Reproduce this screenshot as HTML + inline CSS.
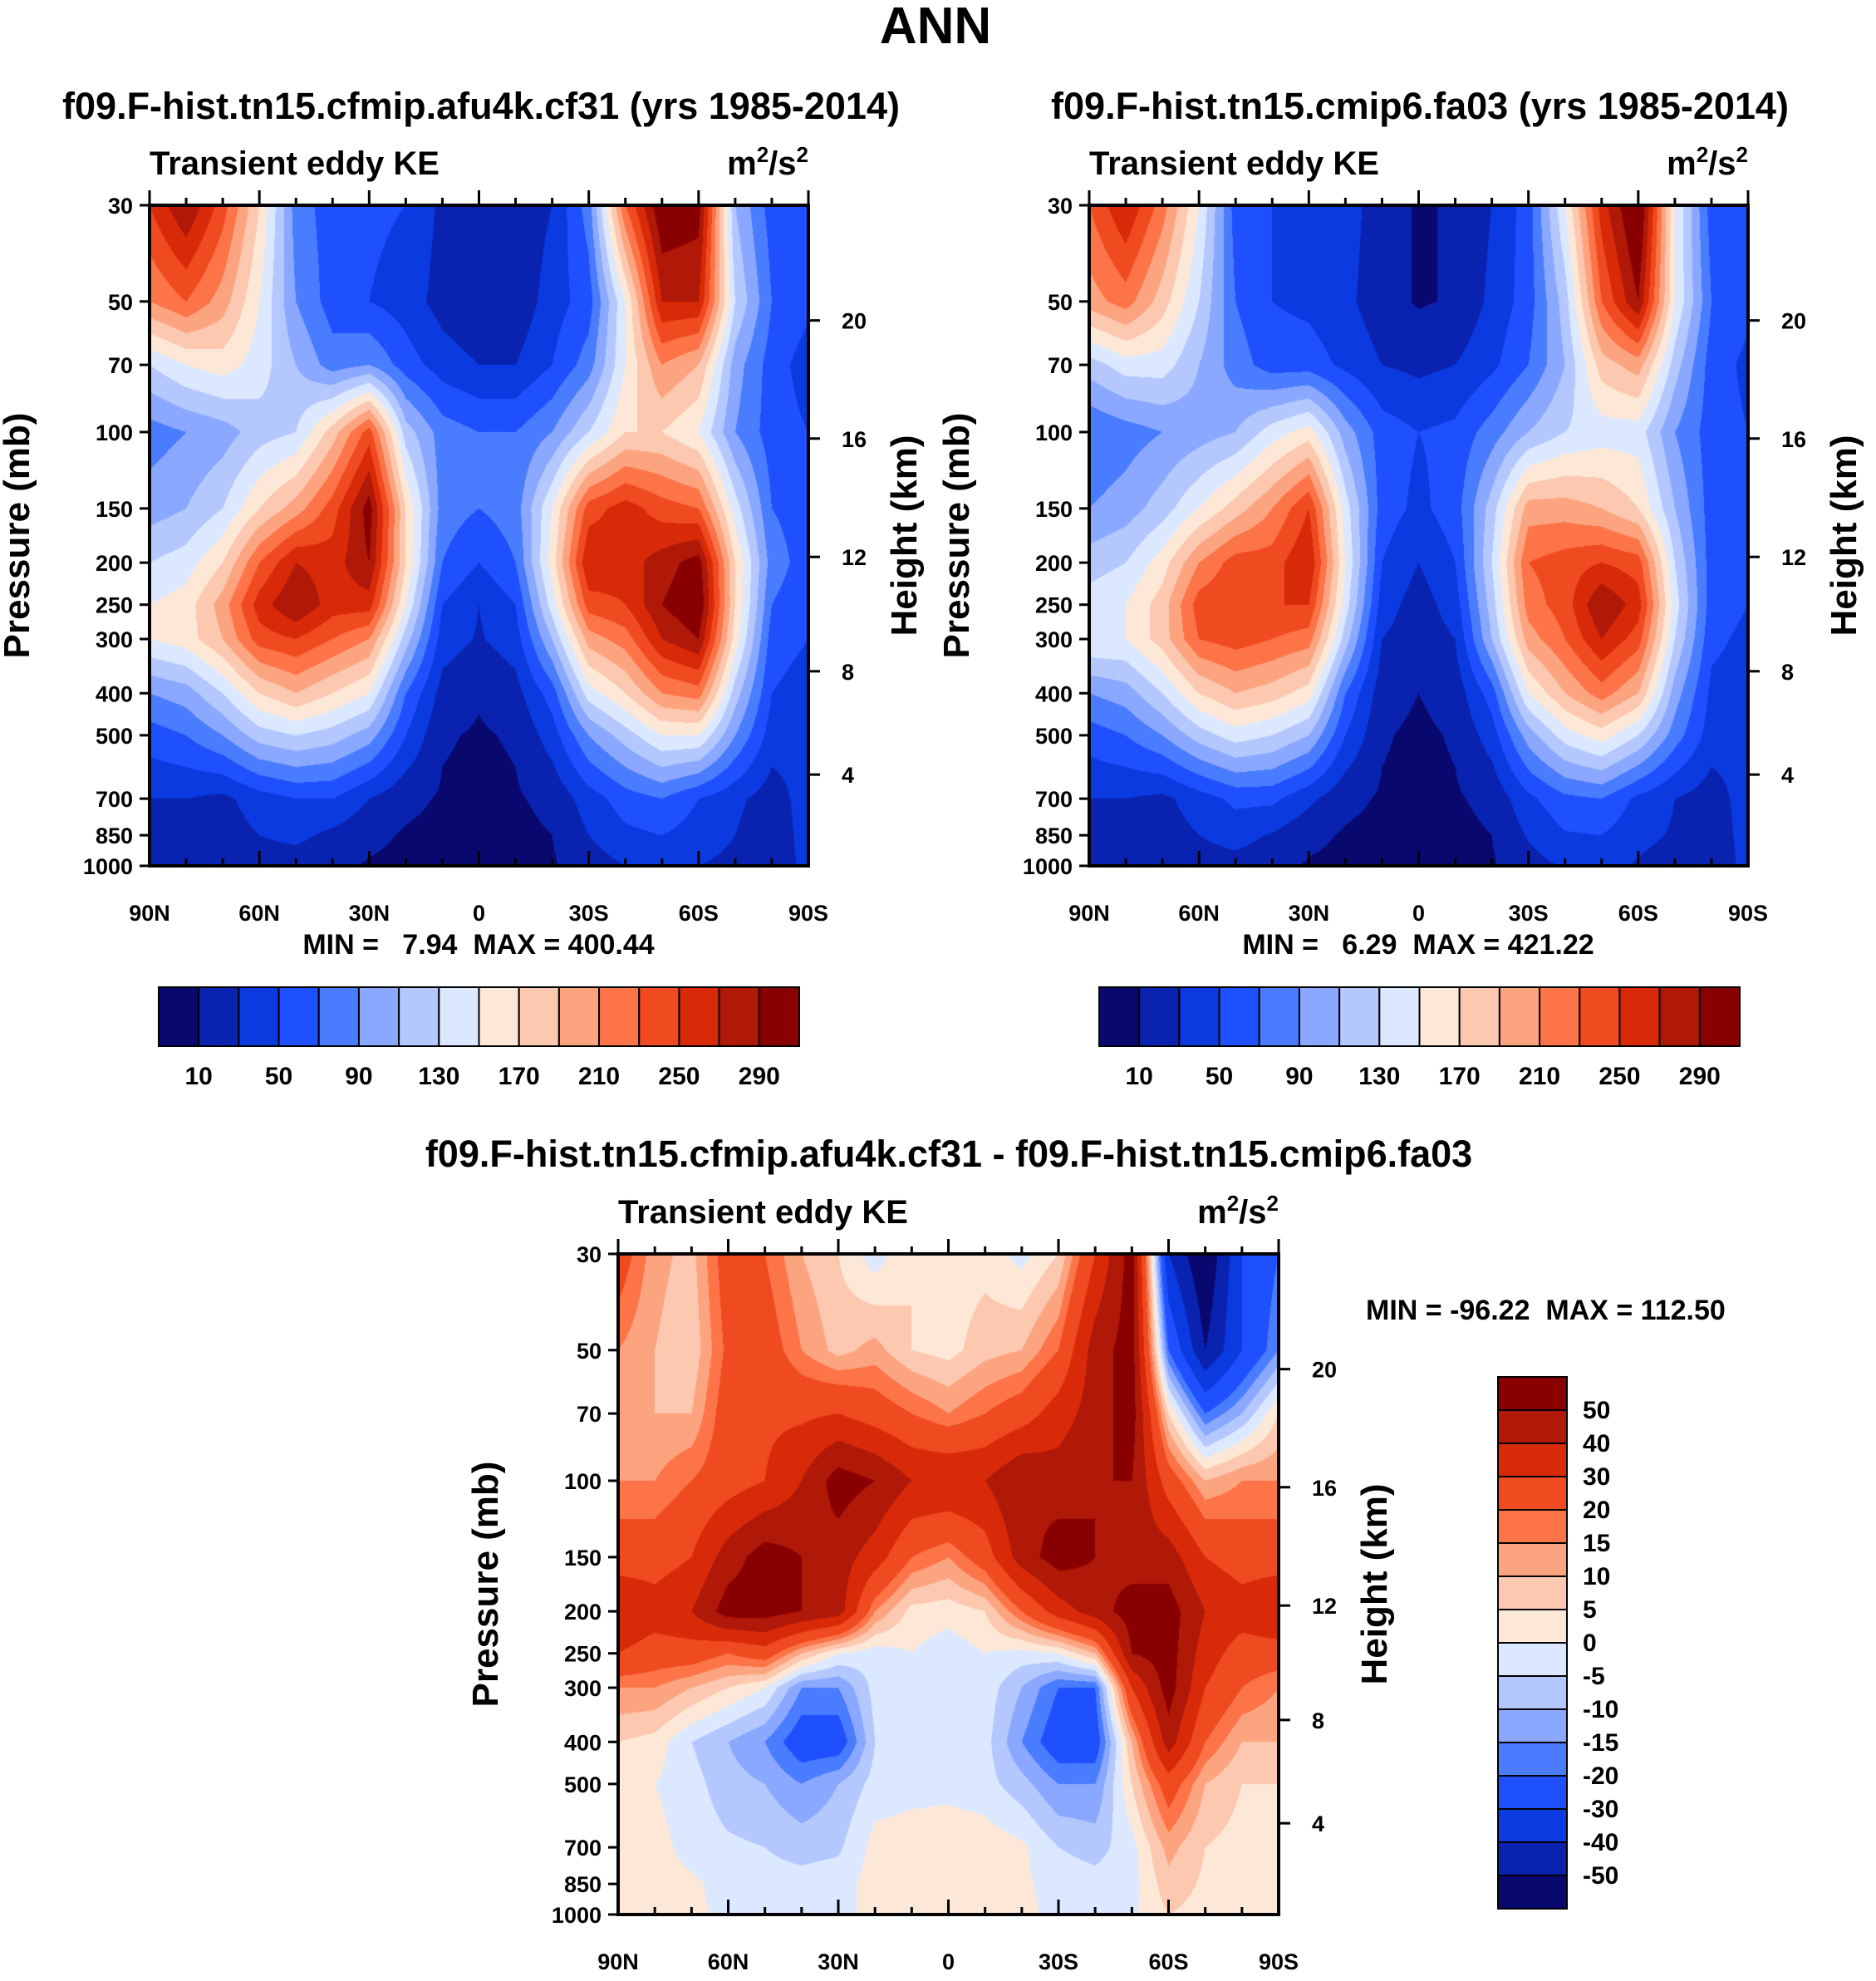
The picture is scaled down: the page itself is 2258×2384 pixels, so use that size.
<!DOCTYPE html>
<html><head><meta charset="utf-8">
<style>
html,body{margin:0;padding:0;background:#fff;}
body{width:2258px;height:2384px;position:relative;overflow:hidden;font-family:"Liberation Sans",sans-serif;}
canvas{position:absolute;}
svg{position:absolute;left:0;top:0;}
svg text{font-family:"Liberation Sans",sans-serif;font-weight:bold;fill:#000;}
.pre{white-space:pre;}
</style></head>
<body>
<canvas id="c1"></canvas>
<canvas id="c2"></canvas>
<canvas id="c3"></canvas>
<svg id="ov" width="2258" height="2384"></svg>
<script>
// ---- data ----
const lats = [90,80,70,60,50,40,30,20,10,0,-10,-20,-30,-40,-50,-60,-70,-80,-90];
const plevs = [30,50,70,100,150,200,250,300,400,500,700,850,1000];
const keLevels = [10,30,50,70,90,110,130,150,170,190,210,230,250,270,290];
const keTickLabels = ["10","50","90","130","170","210","250","290"];
const diffLevels = [-50,-40,-30,-20,-15,-10,-5,0,5,10,15,20,30,40,50];
const diffTickLabels = ["50","40","30","20","15","10","5","0","-5","-10","-15","-20","-30","-40","-50"];
const colors = ["#08086e","#0a22b0","#0a3ae0","#1e50ff","#4a7cff","#8aa8ff","#b4c8ff","#dce8ff","#fde8d8","#fcc8b0","#fca480","#fc7448","#f04a20","#d82a08","#b01808","#880000"];
const lonTicks = ["90N","60N","30N","0","30S","60S","90S"];
const pTicks = [30,50,70,100,150,200,250,300,400,500,700,850,1000];
const hTicks = [20,16,12,8,4];
const hTickP = [55.3,103.5,194,356,616];

const ke1 = [
[250,290,240,170,80,60,55,50,25,15,15,30,80,230,310,300,110,60,50],
[210,230,200,150,90,60,50,40,22,12,15,40,60,150,270,270,130,70,55],
[130,150,160,140,110,80,90,60,40,30,30,50,80,150,210,190,100,60,40],
[80,90,100,120,130,180,240,120,80,70,70,90,130,170,170,150,90,60,50],
[100,110,130,170,200,240,300,170,80,70,80,150,240,260,240,230,140,70,60],
[130,140,170,230,270,260,290,170,70,50,70,160,270,260,280,300,170,80,60],
[150,160,200,260,290,260,260,150,50,30,50,140,240,250,290,310,170,70,55],
[150,160,190,240,250,230,210,120,40,28,40,110,200,220,270,290,160,60,50],
[90,100,130,170,190,170,150,70,22,12,22,60,140,170,210,220,120,50,40],
[60,70,90,120,130,120,100,50,12,8,12,40,90,120,150,150,90,40,35],
[30,30,25,40,50,50,30,15,8,5,8,15,40,60,70,50,35,20,40],
[25,25,20,30,35,25,15,8,5,5,5,10,30,45,50,40,30,15,40],
[20,20,15,20,20,15,8,5,5,5,5,8,20,30,35,30,25,10,40]];

const ke2 = [
[230,270,220,150,60,50,45,40,18,8,12,30,60,150,260,320,150,60,50],
[200,220,180,130,70,50,45,35,18,8,12,35,60,120,230,290,150,70,55],
[120,140,140,110,80,60,60,45,30,25,30,45,70,110,180,200,120,60,45],
[70,80,90,100,110,140,160,100,60,50,55,80,110,130,140,140,90,60,50],
[90,100,120,150,180,210,250,140,60,45,60,120,200,200,190,170,110,60,50],
[120,130,160,210,240,240,270,150,50,30,50,130,230,240,250,240,130,60,50],
[140,150,180,240,250,250,250,140,40,20,40,120,220,240,290,260,140,60,50],
[150,150,180,230,240,230,220,120,30,18,30,110,200,230,270,240,130,55,45],
[90,100,130,170,190,180,160,70,18,10,18,60,150,190,220,190,100,45,40],
[60,70,90,120,140,130,110,50,12,6,12,40,100,140,160,130,80,40,35],
[30,30,25,40,55,55,35,15,8,5,8,15,45,65,70,45,30,20,40],
[25,25,20,30,38,28,15,8,5,5,5,10,32,48,50,35,28,15,40],
[20,20,15,20,22,16,8,5,5,5,5,8,22,32,36,28,22,10,40]];

const dke = [
[25,12,8,25,20,10,5,-3,5,2,3,-2,5,30,55,-40,-60,-30,-20],
[15,10,6,22,25,15,8,12,5,3,8,10,20,45,55,-20,-50,-30,-15],
[15,10,10,25,28,28,30,25,20,15,20,25,35,45,55,5,-20,-10,5],
[15,15,20,25,30,40,55,50,40,40,40,50,45,50,50,25,10,15,15],
[25,25,30,45,55,50,45,35,20,15,25,45,55,50,45,45,30,25,25],
[40,35,40,55,55,50,45,15,3,2,5,20,35,45,55,55,40,35,40],
[30,25,25,20,25,10,0,-3,0,-3,0,-2,0,10,50,55,35,25,25],
[15,15,10,5,0,-15,-15,-3,-2,-2,-2,-10,-20,-20,30,55,30,20,15],
[5,3,-5,-10,-15,-25,-25,-5,-2,-2,-3,-15,-25,-25,10,45,20,10,10],
[2,0,-3,-8,-10,-15,-10,-3,-2,-2,-3,-8,-15,-15,5,25,10,5,5],
[2,2,-2,-4,-5,-7,-6,2,3,4,3,1,-5,-7,-2,12,5,3,3],
[2,2,1,-2,-3,-3,-2,2,3,3,3,1,-2,-3,-2,8,4,3,3],
[2,2,1,-1,-2,-2,-1,1,2,2,2,1,-1,-2,-1,5,3,2,2]];

// ---- helpers ----
const NS="http://www.w3.org/2000/svg";
const ov=document.getElementById('ov');
function mk(tag,attrs,parent){const e=document.createElementNS(NS,tag);for(const k in attrs)e.setAttribute(k,attrs[k]);(parent||ov).appendChild(e);return e;}
function txt(s,x,y,size,anchor,name,extra){const t=mk('text',Object.assign({x:x,y:y,'font-size':size,'text-anchor':anchor||'middle'},extra||{}));t.textContent=s;


return t;}
function yOfP(p,y0,y1){return y0+(Math.log(p)-Math.log(30))/(Math.log(1000)-Math.log(30))*(y1-y0);}
function xOfLat(l,x0,x1){return x0+(90-l)/180*(x1-x0);}

function drawField(id,data,levels,x0,y0,x1,y1){
  const cv=document.getElementById(id);const W=x1-x0,H=y1-y0;
  cv.width=W;cv.height=H;cv.style.left=x0+'px';cv.style.top=y0+'px';
  const ctx=cv.getContext('2d');
  const lp=plevs.map(p=>Math.log(p));
  const rgb=colors.map(c=>[parseInt(c.substr(1,2),16),parseInt(c.substr(3,2),16),parseInt(c.substr(5,2),16)]);
  const img=ctx.createImageData(W,H);
  for(let py=0;py<H;py++){
    const lpv=Math.log(30)+(py+0.5)/H*(Math.log(1000)-Math.log(30));
    let j=0;while(j<lp.length-2&&lpv>lp[j+1])j++;
    const fy=Math.min(1,Math.max(0,(lpv-lp[j])/(lp[j+1]-lp[j])));
    for(let px=0;px<W;px++){
      const lat=90-(px+0.5)/W*180;
      const fi=(90-lat)/10;let i=Math.min(17,Math.floor(fi));const fx=fi-i;
      const v=(data[j][i]*(1-fx)+data[j][i+1]*fx)*(1-fy)+(data[j+1][i]*(1-fx)+data[j+1][i+1]*fx)*fy;
      let k=0;while(k<levels.length&&v>=levels[k])k++;
      const c=rgb[k];const o=(py*W+px)*4;
      img.data[o]=c[0];img.data[o+1]=c[1];img.data[o+2]=c[2];img.data[o+3]=255;
    }
  }
  ctx.putImageData(img,0,0);
}

function axes(pfx,x0,y0,x1,y1,latBase){
  mk('rect',{x:x0,y:y0,width:x1-x0,height:y1-y0,fill:'none',stroke:'#000','stroke-width':4,});
  pTicks.forEach(p=>{const y=yOfP(p,y0,y1);
    mk('line',{x1:x0-12,y1:y,x2:x0,y2:y,stroke:'#000','stroke-width':3});
    txt(String(p),x0-20,y+10,27,'end',pfx+'-pressure-tick');});
  hTicks.forEach((h,i)=>{const y=yOfP(hTickP[i],y0,y1);
    mk('line',{x1:x1,y1:y,x2:x1+14,y2:y,stroke:'#000','stroke-width':3});
    txt(String(h),x1+40,y+10,27,'start',pfx+'-height-tick');});
  for(let l=90;l>=-90;l-=10){const x=xOfLat(l,x0,x1);const maj=(l%30===0);
    mk('line',{x1:x,y1:y0,x2:x,y2:y0-(maj?18:9),stroke:'#000','stroke-width':3});
    mk('line',{x1:x,y1:y1,x2:x,y2:y1-(maj?18:9),stroke:'#000','stroke-width':3});}
  lonTicks.forEach((s,i)=>{txt(s,x0+i*(x1-x0)/6,latBase,27,'middle',pfx+'-lat-tick');});
  txt('Transient eddy KE',x0,y0-37,40,'start',pfx+'-subtitle');
  const u=txt('',x1,y0-37,40,'end',pfx+'-units');
  u.innerHTML='m<tspan dy="-15" font-size="26">2</tspan><tspan dy="15">/s</tspan><tspan dy="-15" font-size="26">2</tspan>';
  const cy=(y0+y1)/2;
  txt('Pressure (mb)',0,0,44,'middle',pfx+'-y-axis-title',{transform:`translate(${x0-145},${cy}) rotate(-90)`});
  txt('Height (km)',0,0,44,'middle',pfx+'-y2-axis-title',{transform:`translate(${x1+130},${cy}) rotate(-90)`});
}

function hbar(pfx,x0,y0,x1,y1){
  const w=(x1-x0)/16;
  colors.forEach((c,i)=>{mk('rect',{x:x0+i*w,y:y0,width:w,height:y1-y0,fill:c,stroke:'#000','stroke-width':2,});});
  keTickLabels.forEach((s,i)=>{txt(s,x0+(1+2*i)*w,y1+46,30,'middle',pfx+'-colorbar-label');});
}

drawField('c1',ke1,keLevels,180,247,973,1042);
drawField('c2',ke2,keLevels,1311,247,2104,1042);
drawField('c3',dke,diffLevels,744,1509,1539,2304);

txt('ANN',1126,52,62,'middle','main-title');
txt('f09.F-hist.tn15.cfmip.afu4k.cf31 (yrs 1985-2014)',579,143,45,'middle','panel1-title');
txt('f09.F-hist.tn15.cmip6.fa03 (yrs 1985-2014)',1709,143,45,'middle','panel2-title');
txt('f09.F-hist.tn15.cfmip.afu4k.cf31 - f09.F-hist.tn15.cmip6.fa03',1142,1404,45,'middle','diff-title');

axes('panel1',180,247,973,1042,1108);
axes('panel2',1311,247,2104,1042,1108);
axes('diff',744,1509,1539,2304,2370);

txt('MIN =   7.94  MAX = 400.44',576,1148,34,'middle','panel1-minmax',{'class':'pre'});
txt('MIN =   6.29  MAX = 421.22',1707,1148,34,'middle','panel2-minmax',{'class':'pre'});
txt('MIN = -96.22  MAX = 112.50',1644,1588,34,'start','diff-minmax',{'class':'pre'});

hbar('panel1',191,1188,962,1259);
hbar('panel2',1323,1188,2094,1259);

{const x0=1803,x1=1886,y0=1657,h=40;
 for(let i=0;i<16;i++){mk('rect',{x:x0,y:y0+i*h,width:x1-x0,height:h,fill:colors[15-i],stroke:'#000','stroke-width':2,});}
 diffTickLabels.forEach((s,i)=>{txt(s,1905,y0+(i+1)*h+10,30,'start','diff-colorbar-label');});}
</script>
</body></html>
